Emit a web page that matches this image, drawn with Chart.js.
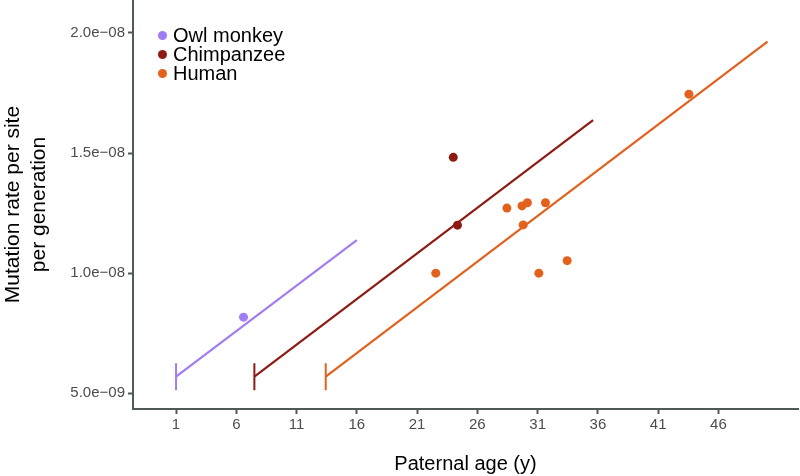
<!DOCTYPE html>
<html>
<head>
<meta charset="utf-8">
<script src="https://cdn.jsdelivr.net/npm/chart.js@4"></script>
<style>
  html, body { margin: 0; padding: 0; background: #fff; }
  #wrap { position: relative; width: 800px; height: 476px; }
  canvas { display: block; }
  #legend { position: absolute; left: 158px; top: 26px; font-family: "Liberation Sans", Arial, sans-serif; font-size: 20px; color: #000; }
  #legend div { height: 19px; line-height: 19px; white-space: nowrap; }
  #legend span.dot { display: inline-block; width: 9px; height: 9px; border-radius: 50%; margin-right: 6px; vertical-align: 2px; }
</style>
</head>
<body>
<div id="wrap">
  <canvas id="c" width="800" height="476"></canvas>
  <div id="legend"></div>
</div>
<script>
// ---- data ----
const seriesNames = ['Owl monkey', 'Chimpanzee', 'Human'];
const seriesColors = ['#A17CF2', '#8E1B13', '#E2611C'];

const owlAge = [6.6];
const owlRate = [8.17e-9];

const chimpAge = [24.0, 24.35];
const chimpRate = [1.482e-8, 1.200e-8];

const humanAge = [22.55, 28.45, 29.7, 30.15, 31.65, 29.8, 33.45, 31.1, 43.55];
const humanRate = [1.000e-8, 1.271e-8, 1.280e-8, 1.293e-8, 1.293e-8, 1.201e-8, 1.052e-8, 1.000e-8, 1.745e-8];

// fitted lines: [startAge, endAge], [startRate, endRate]
const owlFitAge = [1, 16];
const owlFitRate = [5.69e-9, 1.138e-8];
const chimpFitAge = [7.5, 35.6];
const chimpFitRate = [5.69e-9, 1.637e-8];
const humanFitAge = [13.42, 50.07];
const humanFitRate = [5.69e-9, 1.964e-8];

const xTickValues = [1, 6, 11, 16, 21, 26, 31, 36, 41, 46];
const yTickValues = [5e-9, 1e-8, 1.5e-8, 2e-8];
const yTickLabels = ['5.0e\u221209', '1.0e\u221208', '1.5e\u221208', '2.0e\u221208'];

const xTitle = 'Paternal age (y)';
const yTitle = ['Mutation rate per site', 'per generation'];

// ---- build ----
const pts = (xs, ys) => xs.map((x, i) => ({ x: x, y: ys[i] }));
const axisColor = '#4F5959';
const font = '"Liberation Sans", Arial, sans-serif';

function scatterDs(i, xs, ys) {
  return {
    type: 'scatter', label: seriesNames[i], data: pts(xs, ys),
    backgroundColor: seriesColors[i], borderColor: seriesColors[i],
    pointRadius: 4.5, pointBorderWidth: 0, showLine: false, order: 1
  };
}
function fitDs(i, xs, ys) {
  return {
    type: 'scatter', label: seriesNames[i] + ' fit', data: pts(xs, ys),
    borderColor: seriesColors[i], backgroundColor: seriesColors[i],
    showLine: true, borderWidth: 2.2, fill: false,
    pointStyle: 'line', rotation: 90, pointRadius: [13.5, 0], pointBorderWidth: 2,
    pointBorderColor: seriesColors[i], order: 2
  };
}

new Chart(document.getElementById('c'), {
  type: 'scatter',
  data: {
    datasets: [
      fitDs(0, owlFitAge, owlFitRate),
      fitDs(1, chimpFitAge, chimpFitRate),
      fitDs(2, humanFitAge, humanFitRate),
      scatterDs(0, owlAge, owlRate),
      scatterDs(1, chimpAge, chimpRate),
      scatterDs(2, humanAge, humanRate)
    ]
  },
  options: {
    responsive: false,
    animation: false,
    layout: { autoPadding: false, padding: { top: 0, right: 2, left: 0, bottom: 0 } },
    plugins: { legend: { display: false }, tooltip: { enabled: false } },
    scales: {
      x: {
        type: 'linear', min: -2.57, max: 52.6,
        afterBuildTicks: s => { s.ticks = xTickValues.map(v => ({ value: v })); },
        afterFit: s => { s.height = 67; s.paddingLeft = 0; s.paddingRight = 0; },
        grid: { drawOnChartArea: false, drawTicks: true, tickLength: 5, tickWidth: 2, color: axisColor },
        border: { display: true, color: axisColor, width: 2 },
        ticks: { color: '#4D4D4D', font: { family: font, size: 15 }, padding: 2, maxRotation: 0, autoSkip: false,
                 callback: v => String(v) },
        title: { display: true, text: xTitle, color: '#000', font: { family: font, size: 20 }, padding: { top: 12, bottom: 0 } }
      },
      y: {
        type: 'linear', min: 4.347e-9, max: 2.137e-8,
        afterBuildTicks: s => { s.ticks = yTickValues.map(v => ({ value: v })); },
        afterFit: s => { s.width = 133; s.paddingTop = 0; s.paddingBottom = 0; },
        grid: { drawOnChartArea: false, drawTicks: true, tickLength: 5, tickWidth: 2, color: axisColor },
        border: { display: true, color: axisColor, width: 2 },
        ticks: { color: '#4D4D4D', font: { family: font, size: 15 }, padding: 3, autoSkip: false,
                 callback: v => { const i = yTickValues.findIndex(t => Math.abs(t - v) < 1e-12); return i >= 0 ? yTickLabels[i] : ''; } },
        title: { display: true, text: yTitle, color: '#000', font: { family: font, size: 21, lineHeight: 1.25 }, padding: { top: 0, bottom: 0 } }
      }
    }
  }
});

// HTML legend
const lg = document.getElementById('legend');
seriesNames.forEach((n, i) => {
  const d = document.createElement('div');
  d.innerHTML = '<span class="dot" style="background:' + seriesColors[i] + '"></span>' + n;
  lg.appendChild(d);
});
</script>
</body>
</html>
